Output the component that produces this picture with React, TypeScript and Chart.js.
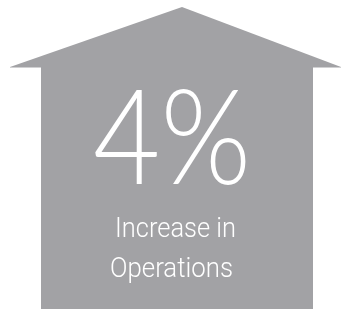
import React, { useEffect, useRef } from "react";
import { Chart, registerables } from "chart.js";

Chart.register(...registerables);

// Shape outline of the house (in chart units, equal to pixels on this canvas)
const roofX = [10, 182, 341];
const roofY = [67, 7, 67];
const bodyX = [41, 313];
const bodyY = [67, 67];
const groundLevel = 309;
const eaveLevel = 67;

// Texts
const bigValue = "4%";
const captionLines = ["Increase in", "Operations"];

const HOUSE_COLOR = "#a2a2a5";

const textPlugin = {
  id: "houseText",
  afterDatasetsDraw(chart: any) {
    const ctx = chart.ctx as CanvasRenderingContext2D;
    const xs = chart.scales.x;
    const ys = chart.scales.y;
    ctx.save();
    ctx.fillStyle = "#ffffff";
    ctx.textAlign = "center";
    ctx.textBaseline = "alphabetic";

    // big number
    ctx.font = "300 132px Lato, 'Open Sans', sans-serif";
    const bx = xs.getPixelForValue(172);
    const by = ys.getPixelForValue(184);
    const bw = ctx.measureText(bigValue).width;
    const targetBig = 158;
    ctx.save();
    ctx.translate(bx, by);
    ctx.scale(targetBig / bw, 1);
    ctx.fillText(bigValue, 0, 0);
    ctx.restore();

    // caption lines
    const caps = [
      { t: captionLines[0], x: 175.5, y: 237, w: 121 },
      { t: captionLines[1], x: 171.5, y: 277, w: 123 },
    ];
    ctx.font = "300 27px Roboto, sans-serif";
    caps.forEach((c) => {
      const mw = ctx.measureText(c.t).width;
      ctx.save();
      ctx.translate(xs.getPixelForValue(c.x), ys.getPixelForValue(c.y));
      ctx.scale(c.w / mw, 1);
      ctx.fillText(c.t, 0, 0);
      ctx.restore();
    });
    ctx.restore();
  },
};

export default function App() {
  const ref = useRef<HTMLCanvasElement | null>(null);
  useEffect(() => {
    if (!ref.current) return;
    const chart = new Chart(ref.current, {
      type: "scatter",
      data: {
        datasets: [
          {
            data: roofX.map((x, i) => ({ x, y: roofY[i] })),
            showLine: true,
            borderWidth: 0,
            pointRadius: 0,
            backgroundColor: HOUSE_COLOR,
            borderColor: HOUSE_COLOR,
            fill: { value: eaveLevel + 0.5 },
            tension: 0,
          },
          {
            data: bodyX.map((x, i) => ({ x, y: bodyY[i] })),
            showLine: true,
            borderWidth: 0,
            pointRadius: 0,
            backgroundColor: HOUSE_COLOR,
            borderColor: HOUSE_COLOR,
            fill: { value: groundLevel },
            tension: 0,
          },
        ],
      },
      options: {
        animation: false,
        responsive: false,
        maintainAspectRatio: false,
        layout: { padding: 0 },
        plugins: {
          legend: { display: false },
          tooltip: { enabled: false },
          title: { display: false },
        },
        scales: {
          x: { type: "linear", min: 0, max: 341, display: false },
          y: { type: "linear", min: 0, max: groundLevel, reverse: true, display: false },
        },
      },
      plugins: [textPlugin],
    });
    return () => chart.destroy();
  }, []);
  return (
    <div style={{ position: "fixed", left: 0, top: 0, width: 341, height: 309, background: "#fff" }}>
      <canvas ref={ref} width={341} height={309} style={{ width: 341, height: 309, display: "block" }} />
    </div>
  );
}
